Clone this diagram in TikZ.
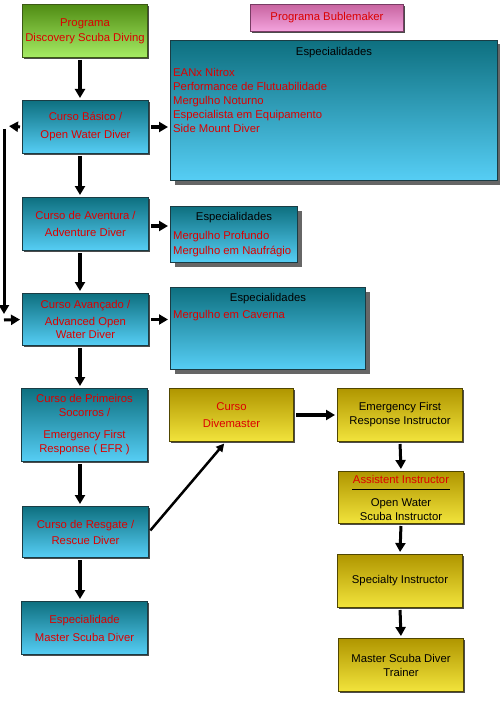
\documentclass[tikz,border=0pt]{standalone}
\usepackage{fontspec}
\setmainfont{Liberation Sans}
\usetikzlibrary{arrows.meta,shadows}
\definecolor{TealTop}{RGB}{14,112,128}
\definecolor{TealBot}{RGB}{86,206,245}
\definecolor{TealEdge}{RGB}{26,60,68}
\definecolor{GoldTop}{RGB}{176,150,0}
\definecolor{GoldBot}{RGB}{242,228,60}
\definecolor{GoldEdge}{RGB}{80,70,0}
\definecolor{LimeTop}{RGB}{80,140,20}
\definecolor{LimeBot}{RGB}{166,236,100}
\definecolor{LimeEdge}{RGB}{60,90,20}
\definecolor{PinkTop}{RGB}{200,100,160}
\definecolor{PinkBot}{RGB}{244,164,222}
\definecolor{PinkEdge}{RGB}{120,60,100}
\definecolor{TxtRed}{RGB}{220,0,0}

\begin{document}
\begin{tikzpicture}[x=1pt,y=-1pt,
  box/.style={anchor=north west,align=center,inner sep=0pt,line width=1pt,
    font=\fontsize{11.3}{16}\selectfont},
  small shadow/.style={drop shadow={shadow xshift=1.5pt,shadow yshift=-1.5pt,opacity=.7,fill=black}},
  curso/.style={box,small shadow,top color=TealTop,bottom color=TealBot,draw=TealEdge,text=TxtRed,
    minimum width=126pt,minimum height=53pt},
  instr/.style={box,small shadow,top color=GoldTop,bottom color=GoldBot,draw=GoldEdge,text=black,
    minimum width=125pt,minimum height=53pt},
  espbox/.style={box,top color=TealTop,bottom color=TealBot,draw=TealEdge,
    drop shadow={shadow xshift=4pt,shadow yshift=-4pt,opacity=.6,fill=black}},
  esptitle/.style={anchor=base,inner sep=0pt,font=\fontsize{11.3}{14}\selectfont},
  esplist/.style={anchor=north west,inner sep=0pt,align=left,text=TxtRed,
    font=\fontsize{11.3}{14}\selectfont},
  arr/.style={-{Triangle[length=9pt,width=10pt]},line width=3.5pt,shorten <=2pt,shorten >=2pt},
  thinarr/.style={-{Triangle[length=8pt,width=8pt]},line width=2.5pt,shorten <=2pt,shorten >=2pt}]
\useasboundingbox (0,0) rectangle (500,714);

\node[box,small shadow,top color=LimeTop,bottom color=LimeBot,draw=LimeEdge,text=TxtRed,
  minimum width=125pt,minimum height=53pt] (discovery) at (22,4) {Programa\\[-1pt]Discovery Scuba Diving};
\node[box,small shadow,top color=PinkTop,bottom color=PinkBot,draw=PinkEdge,text=TxtRed,
  minimum width=153pt,minimum height=27pt] (bublemaker) at (250,4) {Programa Bublemaker};

\node[curso] (basico) at (22,100) {Curso Básico /\\[2pt]Open Water Diver};
\node[curso] (aventura) at (22,197) {Curso de Aventura /\\[1pt]Adventure Diver};
\node[curso,minimum height=52pt] (avancado) at (22,293) {Curso Avançado /\\[1pt]Advanced Open\\[-3pt]Water Diver};
\node[curso,minimum height=73pt] (efr) at (21,388) {Curso de Primeiros\\[-2pt]Socorros /\\[6pt]Emergency First\\[-2pt]Response ( EFR )};
\node[curso,minimum height=51pt] (resgate) at (22,506) {Curso de Resgate /\\Rescue Diver};
\node[curso] (master) at (21,601) {Especialidade\\[2pt]Master Scuba Diver};

\node[espbox,minimum width=327pt,minimum height=140pt] (espBasico) at (170,40) {};
\node[esptitle] (espBasicoT) at ([yshift=-16pt]espBasico.north) {Especialidades};
\node[esplist] (espBasicoL) at ([xshift=3pt,yshift=-28pt]espBasico.north west)
  {EANx Nitrox\\Performance de Flutuabilidade\\Mergulho Noturno\\Especialista em Equipamento\\Side Mount Diver};

\node[espbox,minimum width=127pt,minimum height=56pt] (espAventura) at (170,206) {};
\node[esptitle] (espAventuraT) at ([yshift=-14pt]espAventura.north) {Especialidades};
\node[esplist] (espAventuraL) at ([xshift=3pt,yshift=-25pt]espAventura.north west)
  {Mergulho Profundo\\[1pt]Mergulho em Naufrágio};

\node[espbox,minimum width=195pt,minimum height=82pt] (espAvancado) at (170,287) {};
\node[esptitle] (espAvancadoT) at ([yshift=-14pt]espAvancado.north) {Especialidades};
\node[esplist] (espAvancadoL) at ([xshift=3pt,yshift=-23pt]espAvancado.north west) {Mergulho em Caverna};

\node[instr,text=TxtRed,minimum width=124pt] (divemaster) at (169,388) {Curso\\[1pt]Divemaster};
\node[instr] (efri) at (337,388) {Emergency First\\[-2pt]Response Instructor};
\node[instr,minimum height=52pt] (assist) at (338,471)
  {\textcolor{TxtRed}{Assistent Instructor}\\[-9pt]\rule{98pt}{1pt}\\[0pt]Open Water\\[-2pt]Scuba Instructor};
\node[instr] (specialty) at (337,554) {Specialty Instructor};
\node[instr] (trainer) at (338,638) {Master Scuba Diver\\[-2pt]Trainer};

\coordinate (spine) at (80,0);
\coordinate (backTop) at (7,126);
\coordinate (backLine) at (4,129);
\coordinate (backEnd) at (4,314);
\coordinate (backBot) at (4,320);

\draw[arr] (spine |- discovery.south) -- (spine |- basico.north);
\draw[arr] (spine |- basico.south) -- (spine |- aventura.north);
\draw[arr] (spine |- aventura.south) -- (spine |- avancado.north);
\draw[arr] (spine |- avancado.south) -- (spine |- efr.north);
\draw[arr] (spine |- efr.south) -- (spine |- resgate.north);
\draw[arr] (spine |- resgate.south) -- (spine |- master.north);

\draw[arr,line width=3pt] (basico.west) -- (backTop);
\draw[arr,line width=3pt,shorten <=0pt,shorten >=0pt] (backLine) -- (backEnd);
\draw[arr,line width=3pt,shorten <=0pt] (backBot) -- (avancado.west);

\draw[arr] (basico.east) -- (basico.east -| espBasico.west);
\draw[arr] ([yshift=-2pt]aventura.east) -- ([yshift=-2pt]aventura.east -| espAventura.west);
\draw[arr] (avancado.east) -- (avancado.east -| espAvancado.west);

\draw[thinarr] (resgate.east) -- ([xshift=-6pt]divemaster.south);
\draw[arr] (divemaster.east) -- (efri.west);
\draw[arr,line width=3pt] (efri.south) -- (assist.north);
\draw[arr,line width=3pt] (assist.south) -- (specialty.north);
\draw[arr,line width=3pt] (specialty.south) -- (trainer.north);

\end{tikzpicture}
\end{document}
